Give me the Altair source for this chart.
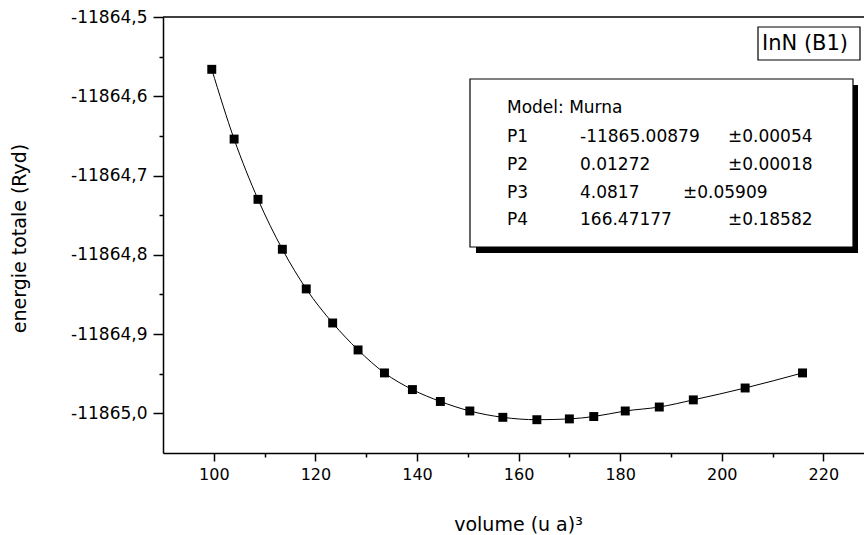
import altair as alt
import pandas as pd

# ---- data ----
volume = [99.6, 104.0, 108.7, 113.5, 118.2, 123.4, 128.4, 133.6, 139.1, 144.6,
          150.4, 156.9, 163.6, 170.0, 174.8, 181.0, 187.7, 194.4, 204.6, 215.9]
energy = [-11864.566, -11864.654, -11864.730, -11864.793, -11864.843, -11864.886,
          -11864.920, -11864.949, -11864.970, -11864.985, -11864.997, -11865.005,
          -11865.008, -11865.007, -11865.004, -11864.997, -11864.992, -11864.983,
          -11864.968, -11864.949]

x_ticks = [100, 110, 120, 130, 140, 150, 160, 170, 180, 190, 200, 210, 220]
y_ticks = [-11864.5, -11864.55, -11864.6, -11864.65, -11864.7, -11864.75,
           -11864.8, -11864.85, -11864.9, -11864.95, -11865.0]

model_label = "Model: Murna"
param_names = ["P1", "P2", "P3", "P4"]
param_values = ["-11865.00879", "0.01272", "4.0817", "166.47177"]
param_errors = ["±0.00054", "±0.00018", "±0.05909", "±0.18582"]
tag_label = "InN (B1)"

df = pd.DataFrame({"volume": volume, "energy": energy})

FONT = "DejaVu Sans"
W, H = 701, 436

x_axis = alt.Axis(
    values=x_ticks,
    tickSize={"condition": {"test": "datum.value % 20 == 0", "value": 8}, "value": 4},
    labelExpr="datum.value % 20 == 0 ? datum.label : ''",
    grid=False, domainColor="black", domainWidth=1.5, tickColor="black", tickWidth=1.5,
    labelFont=FONT, labelFontSize=16, labelColor="black", labelPadding=5,
    title="volume (u a)³", titleFont=FONT, titleFontSize=19, titleFontWeight="normal",
    titleColor="black", titleX=355, titleY=77, titleBaseline="alphabetic",
)
major_y = "abs(datum.value*10 - round(datum.value*10)) < 0.01"
y_axis = alt.Axis(
    values=y_ticks,
    tickSize={"condition": {"test": major_y, "value": 10}, "value": 4},
    labelExpr=major_y + " ? '-' + replace(format(abs(datum.value), '.1f'), '.', ',') : ''",
    grid=False, domainColor="black", domainWidth=1.5, tickColor="black", tickWidth=1.5,
    labelFont=FONT, labelFontSize=17, labelColor="black", labelPadding=6,
    title="energie totale (Ryd)", titleFont=FONT, titleFontSize=19, titleFontWeight="normal",
    titleColor="black", titleX=-144, titleY=221, titleAlign="center", titleBaseline="middle",
)

xs = alt.X("volume:Q", scale=alt.Scale(domain=[90, 228], nice=False, zero=False), axis=x_axis)
ys = alt.Y("energy:Q", scale=alt.Scale(domain=[-11865.05, -11864.5], nice=False, zero=False), axis=y_axis)

base = alt.Chart(df)
line = base.mark_line(color="black", strokeWidth=1, interpolate="monotone").encode(x=xs, y=ys)
points = base.mark_square(size=80, color="black", opacity=1).encode(x="volume:Q", y="energy:Q")

one = pd.DataFrame({"k": [0]})
top_line = alt.Chart(one).mark_rule(color="black", strokeWidth=1.5).encode(
    x=alt.value(0), x2=alt.value(W), y=alt.value(0))

shadow = alt.Chart(one).mark_rect(color="black").encode(
    x=alt.value(313), x2=alt.value(695), y=alt.value(68), y2=alt.value(236))
box = alt.Chart(one).mark_rect(fill="white", stroke="black", strokeWidth=1.2).encode(
    x=alt.value(307), x2=alt.value(690), y=alt.value(62), y2=alt.value(230))
tag_box = alt.Chart(one).mark_rect(fill="white", stroke="black", strokeWidth=1.2).encode(
    x=alt.value(595), x2=alt.value(697), y=alt.value(10), y2=alt.value(43))


def txt(s, px, py, size=17):
    return alt.Chart(pd.DataFrame({"t": [s]})).mark_text(
        align="left", baseline="middle", font=FONT, fontSize=size, color="black"
    ).encode(text="t:N", x=alt.value(px), y=alt.value(py))


texts = [txt(tag_label, 599, 27, 21), txt(model_label, 344, 91)]
row_y = [120, 148, 176, 203]
err_x = [565, 565, 520, 565]
for name, val, err, py, ex in zip(param_names, param_values, param_errors, row_y, err_x):
    texts += [txt(name, 344, py), txt(val, 417, py), txt(err, ex, py)]

chart = alt.layer(line, points, top_line, tag_box, shadow, box, *texts).properties(
    width=W, height=H,
    padding={"left": 163, "top": 17, "right": 0, "bottom": 82},
    autosize=alt.AutoSizeParams(type="none"),
    background="white",
).configure_view(stroke=None)

chart.save("out.html", embed_options={"renderer": "svg", "actions": False})
